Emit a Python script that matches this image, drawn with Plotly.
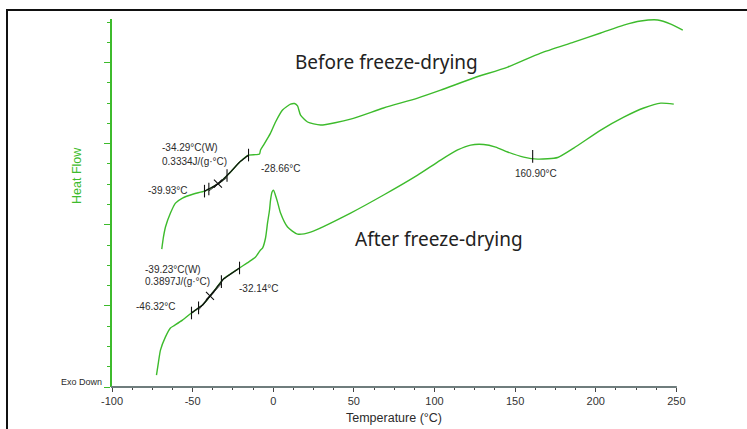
import numpy as np
import plotly.graph_objects as go

# DSC heating scans: temperature (°C) vs heat flow (arbitrary units, exo down)
before_temp = [-69.13, -68.08, -66.84, -63.74, -60.63, -56.29, -49.46, -42.63, -37.67,
               -32.71, -26.50, -20.91, -15.33, -10.98, -8.50, -7.88, -6.02, -1.68, 1.43,
               5.77, 10.74, 13.22, 15.08, 16.94, 21.29, 29.35, 47.97, 68.45, 89.55,
               103.82, 124.30, 145.40, 165.88, 186.36, 203.12, 217.39, 227.94, 238.49,
               246.56, 254.00]
before_hf = [6.80, 7.40, 7.89, 8.58, 9.07, 9.32, 9.52, 9.66, 9.86,
             10.11, 10.60, 11.09, 11.44, 11.46, 11.49, 11.69, 11.93, 12.52, 13.07,
             13.66, 13.95, 13.98, 13.86, 13.41, 13.07, 12.92, 13.21, 13.76, 14.25,
             14.64, 15.24, 15.78, 16.47, 17.01, 17.46, 17.85, 18.05, 18.10,
             17.90, 17.60]

after_temp = [-72.42, -71.18, -69.94, -66.84, -63.74, -61.87, -56.29, -50.70, -43.87,
              -37.67, -30.84, -20.91, -15.33, -10.98, -7.88, -6.64, -4.78, -3.54, -2.30,
              -1.68, -0.74, 0.19, 1.12, 2.67, 4.53, 8.87, 15.08, 23.15, 47.97, 68.45,
              89.55, 103.82, 114.37, 122.44, 130.51, 137.96, 145.40, 155.33, 164.02,
              176.43, 186.36, 203.12, 217.39, 229.80, 240.35, 248.42]
after_hf = [0.59, 1.23, 1.82, 2.47, 2.91, 3.01, 3.30, 3.65, 4.04,
            4.64, 5.33, 5.87, 6.16, 6.41, 6.76, 6.85, 7.35, 8.09, 8.73,
            9.22, 9.62, 9.71, 9.52, 9.12, 8.58, 7.89, 7.54, 7.64, 8.58, 9.47,
            10.45, 11.19, 11.69, 11.93, 11.96, 11.83, 11.59, 11.34, 11.24,
            11.32, 11.78, 12.67, 13.31, 13.76, 14.00, 13.95]

# Glass-transition analysis (onset, midpoint, end) and analysis limits
before_tg = [-39.93, -34.29, -28.66]
before_limits = [-42.63, -15.33]
before_dcp = 0.3334
after_tg = [-46.32, -39.23, -32.14]
after_limits = [-50.70, -20.91]
after_dcp = 0.3897
after_peak_temp = 160.90

x_tickvals = [-100, -50, 0, 50, 100, 150, 200, 250]
x_ticktext = ["-100", "-50", "0", "50", "100", "150", "200", "250"]

# ---- figure geometry ----
W, H = 747, 429
ML, MR, MT, MB = 112, 61, 19, 42
XR = [-100, 256]
YR = [0, 18.15]
PW, PH = W - ML - MR, H - MT - MB


def paper_x(px):
    return (px - ML) / PW


def paper_y(py):
    return (H - MB - py) / PH


GREEN = "#3dbb2c"
TXT = "#2b2b2b"
FONT = "Liberation Sans, Arial, sans-serif"

fig = go.Figure()

for t, hf in [(before_temp, before_hf), (after_temp, after_hf)]:
    fig.add_trace(go.Scatter(x=t, y=hf, mode="lines",
                             line=dict(color=GREEN, width=1.4, shape="spline", smoothing=0.6),
                             hoverinfo="skip", showlegend=False))


def tg_marks(t, hf, tg, limits):
    t = np.asarray(t)
    hf = np.asarray(hf)
    seg_x = np.linspace(limits[0], limits[1], 40)
    seg_y = np.interp(seg_x, t, hf)
    # analysed section of the curve
    fig.add_trace(go.Scatter(x=seg_x, y=seg_y, mode="lines",
                             line=dict(color="#111111", width=1.3, shape="spline"),
                             hoverinfo="skip", showlegend=False))
    # tangent between onset and end
    ty = np.interp(tg, t, hf)
    fig.add_trace(go.Scatter(x=[tg[0], tg[2]], y=[ty[0] - 0.1, ty[2] - 0.1], mode="lines",
                             line=dict(color="#111111", width=0.8),
                             hoverinfo="skip", showlegend=False))
    # limit, onset and end ticks
    tick_x = [limits[0], tg[0], tg[2], limits[1]]
    tick_y = np.interp(tick_x, t, hf)
    fig.add_trace(go.Scatter(x=tick_x, y=tick_y, mode="markers",
                             marker=dict(symbol="line-ns", size=9,
                                         line=dict(color="#111111", width=1.1)),
                             hoverinfo="skip", showlegend=False))
    # midpoint cross
    fig.add_trace(go.Scatter(x=[tg[1]], y=[ty[1]], mode="markers",
                             marker=dict(symbol="x-thin", size=8,
                                         line=dict(color="#111111", width=1.1)),
                             hoverinfo="skip", showlegend=False))


tg_marks(before_temp, before_hf, before_tg, before_limits)
tg_marks(after_temp, after_hf, after_tg, after_limits)

peak_y = float(np.interp(after_peak_temp, after_temp, after_hf))
fig.add_trace(go.Scatter(x=[after_peak_temp], y=[peak_y + 0.1], mode="markers",
                         marker=dict(symbol="line-ns", size=9,
                                     line=dict(color="#111111", width=1.1)),
                         hoverinfo="skip", showlegend=False))


def label(text, px, py, size=10, anchor="left", color=TXT, font=FONT, angle=0):
    fig.add_annotation(x=paper_x(px), y=paper_y(py), xref="paper", yref="paper",
                       text=text, showarrow=False, xanchor=anchor, yanchor="middle",
                       textangle=angle,
                       font=dict(size=size, color=color, family=font))


label(f"{before_tg[1]:.2f}°C(W)", 160, 148)
label(f"{before_dcp:.4f}J/(g·°C)", 160, 161)
label(f"{before_tg[0]:.2f}°C", 146, 190)
label(f"{before_tg[2]:.2f}°C", 259, 168)
label(f"{after_tg[1]:.2f}°C(W)", 143, 269)
label(f"{after_dcp:.4f}J/(g·°C)", 143, 281)
label(f"{after_tg[0]:.2f}°C", 134, 306)
label(f"{after_tg[2]:.2f}°C", 237, 288)
label(f"{after_peak_temp:.2f}°C", 536, 173, anchor="center")

label("Before freeze-drying", 293, 62, size=19, color="#222222", font="Noto Sans, sans-serif")
label("After freeze-drying", 353, 239, size=19, color="#222222", font="Noto Sans, sans-serif")
label("Heat Flow", 77, 176, size=12.5, anchor="center", color=GREEN, angle=-90)
label("Exo Down", 59, 382, size=9)
label("Temperature (°C)", 394, 418, size=12.5, anchor="center")

# outer frame: top and left edges, running to the edges of the page
fig.add_shape(type="line", xref="paper", yref="paper",
              x0=paper_x(6), x1=paper_x(W), y0=paper_y(10), y1=paper_y(10),
              line=dict(color="#111111", width=2))
fig.add_shape(type="line", xref="paper", yref="paper",
              x0=paper_x(7), x1=paper_x(7), y0=paper_y(9), y1=paper_y(H),
              line=dict(color="#111111", width=2))
# temperature axis line
fig.add_shape(type="line", xref="paper", yref="paper",
              x0=paper_x(ML - 1), x1=(250 - XR[0]) / (XR[1] - XR[0]) + 0.5 / PW,
              y0=0, y1=0, line=dict(color="#6f7d7d", width=2))

fig.update_layout(
    width=W, height=H,
    margin=dict(l=ML, r=MR, t=MT, b=MB),
    paper_bgcolor="white", plot_bgcolor="white",
    showlegend=False,
    xaxis=dict(range=XR, showgrid=False, zeroline=False, showline=False,
               tickvals=x_tickvals, ticktext=x_ticktext,
               ticks="outside", ticklen=4, tickwidth=1, tickcolor="#444444",
               minor=dict(dtick=12.5, tick0=-100, ticks="outside", ticklen=2,
                          tickwidth=1, tickcolor="#444444", showgrid=False),
               tickfont=dict(size=11, color="#333333", family=FONT)),
    yaxis=dict(range=YR, showgrid=False, zeroline=False, showline=True,
               linecolor=GREEN, linewidth=1.5, showticklabels=False,
               dtick=4, tick0=0, ticks="outside", ticklen=6, tickwidth=1,
               tickcolor=GREEN,
               minor=dict(dtick=1, ticks="outside", ticklen=3, tickwidth=1,
                          tickcolor=GREEN, showgrid=False)),
)

fig.write_html("out.html")
